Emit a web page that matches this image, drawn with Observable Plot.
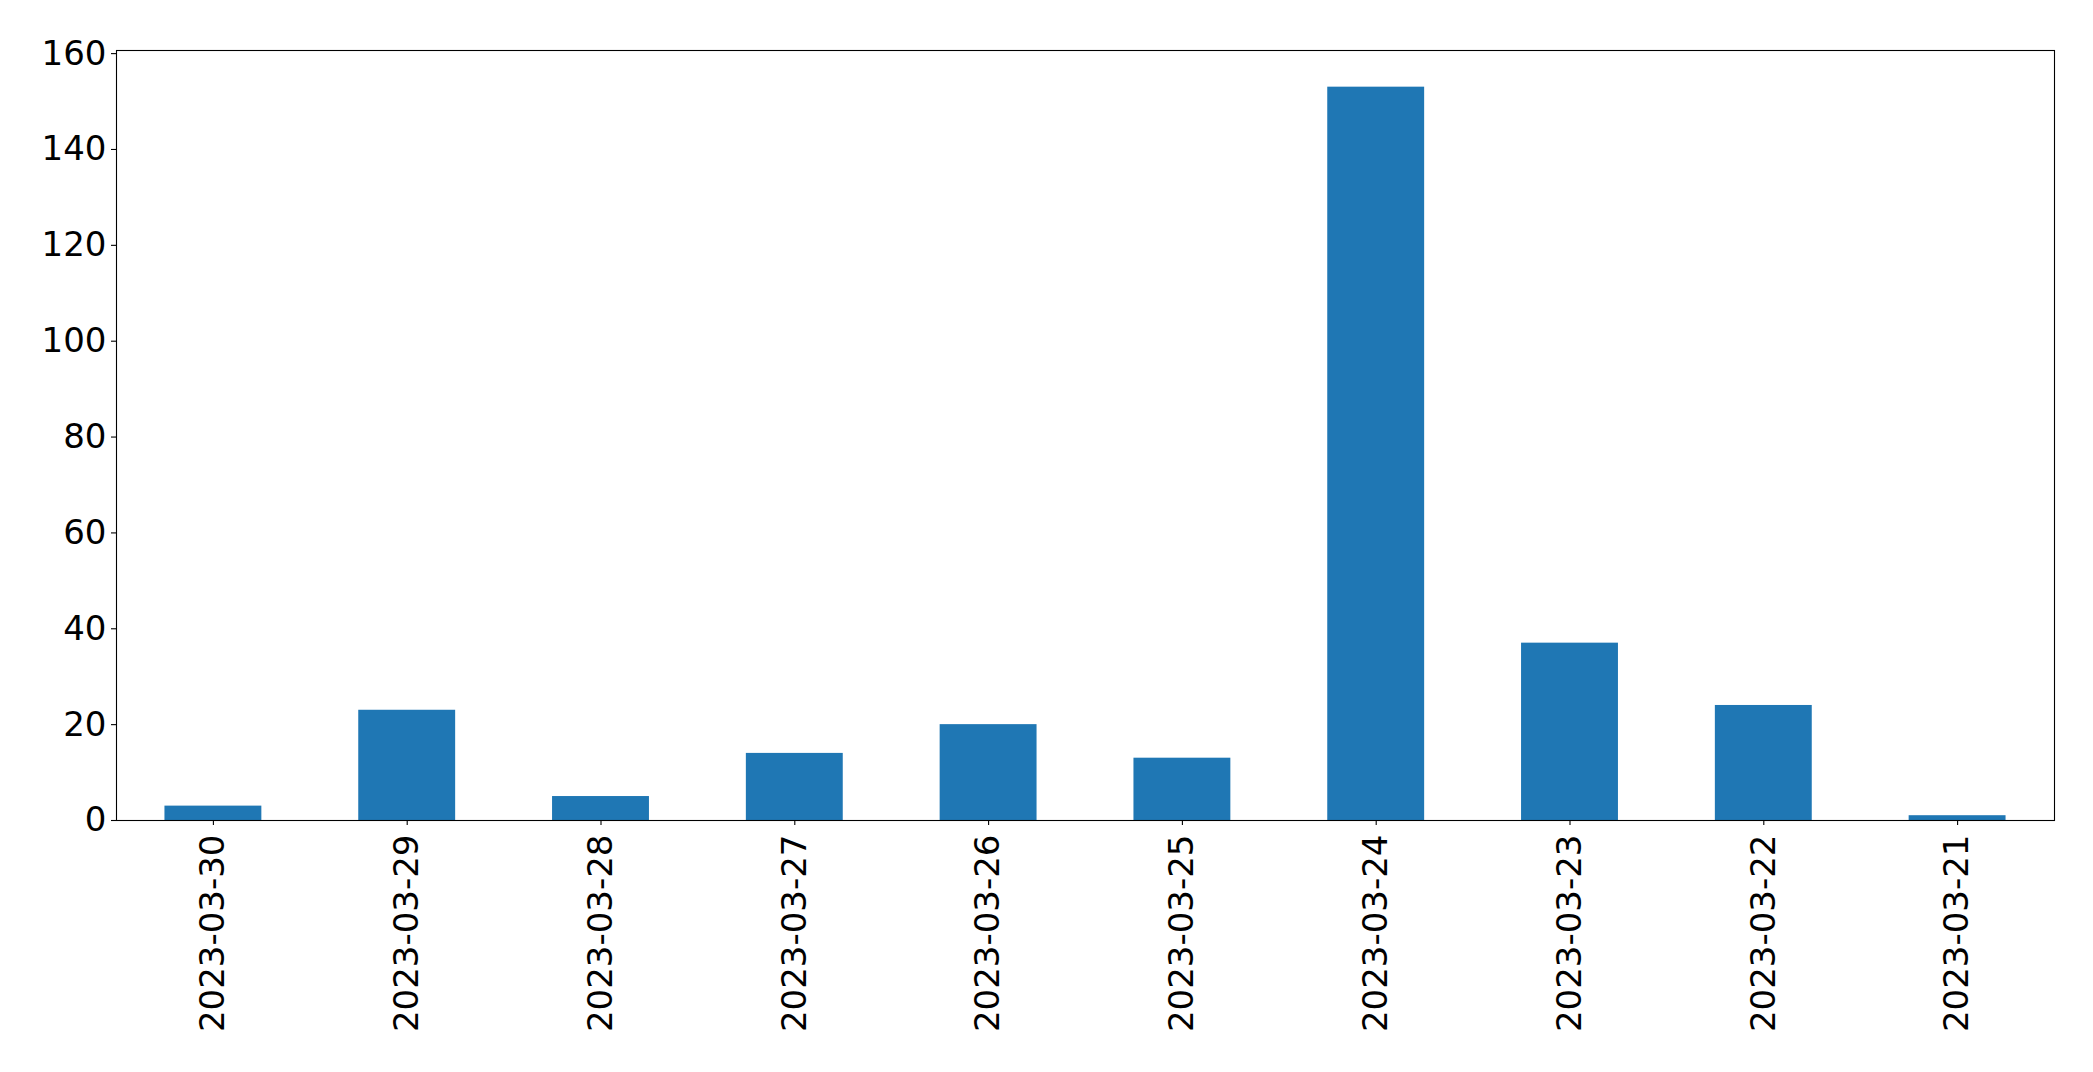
<!DOCTYPE html>
<html>
<head>
<meta charset="utf-8">
<script src="https://cdn.jsdelivr.net/npm/d3@7"></script>
<script src="https://cdn.jsdelivr.net/npm/@observablehq/plot@0.6"></script>
<style>
  html, body { margin: 0; padding: 0; background: #fff; }
  svg { display: block; }
</style>
</head>
<body>
<div id="chart"></div>
<script>
const dates = ["2023-03-30","2023-03-29","2023-03-28","2023-03-27","2023-03-26","2023-03-25","2023-03-24","2023-03-23","2023-03-22","2023-03-21"];
const counts = [3, 23, 5, 14, 20, 13, 153, 37, 24, 1];
const yTicks = [0, 20, 40, 60, 80, 100, 120, 140, 160];

const data = dates.map((d, i) => ({date: d, count: counts[i]}));

const chart = Plot.plot({
  width: 2093,
  height: 1072,
  marginLeft: 116,
  marginRight: 39,
  marginTop: 50,
  marginBottom: 252,
  style: {fontFamily: "DejaVu Sans", fontSize: "34px", background: "#fff", color: "#000"},
  x: {domain: dates, paddingInner: 0.5, paddingOuter: 0.25, round: false, label: null},
  y: {domain: [0, 160.65], label: null},
  marks: [
    Plot.barY(data, {x: "date", y: "count", fill: "#1f77b4"}),
    Plot.frame({stroke: "#000", strokeWidth: 1.1}),
    Plot.axisY({ticks: yTicks, tickSize: 5, tickPadding: 5, fontSize: 34, label: null, stroke: "#000", strokeWidth: 1.1}),
    Plot.axisX({tickSize: 5, tickPadding: 9, tickRotate: -90, fontSize: 34, label: null, stroke: "#000", strokeWidth: 1.1})
  ]
});
document.getElementById("chart").appendChild(chart);
</script>
</body>
</html>
